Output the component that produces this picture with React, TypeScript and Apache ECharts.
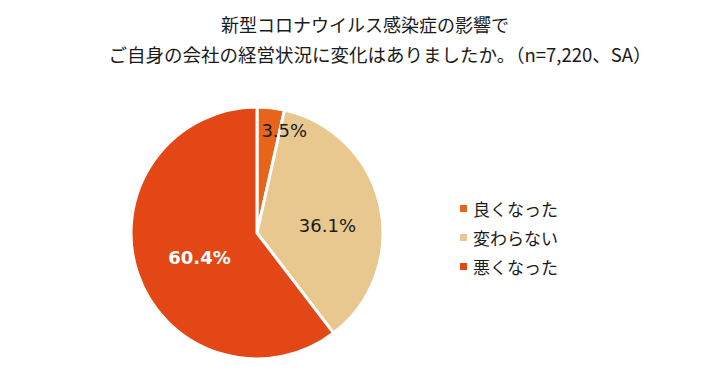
import React, { useEffect, useRef } from "react";
import * as echarts from "echarts";

const titleLine1 = "新型コロナウイルス感染症の影響で";
const titleLine2 = "ご自身の会社の経営状況に変化はありましたか。（n=7,220、SA）";
const categories = ["良くなった", "変わらない", "悪くなった"];
const values = [3.5, 36.1, 60.4];
const colors = ["#E8641B", "#E8C88E", "#E34716"];
const labelColors = ["#1a1a1a", "#1a1a1a", "#ffffff"];
const labelWeights = ["normal", "normal", "bold"];

const FONT = "'Noto Sans CJK JP', 'Noto Sans', sans-serif";
const NUMFONT = "'DejaVu Sans', 'Noto Sans', sans-serif";

export default function App() {
  const ref = useRef<HTMLDivElement>(null);
  useEffect(() => {
    document.body.style.margin = "0";
    if (!ref.current) return;
    const chart = echarts.init(ref.current, null, { renderer: "svg" });
    chart.setOption({
      animation: false,
      backgroundColor: "#ffffff",
      title: [
        {
          text: titleLine1,
          left: 360,
          top: 10,
          textAlign: "center",
          textStyle: { fontFamily: FONT, fontSize: 18, fontWeight: "normal", color: "#1a1a1a" },
        },
        {
          text: titleLine2,
          left: 375,
          top: 40,
          textAlign: "center",
          textStyle: { fontFamily: FONT, fontSize: 18.5, fontWeight: "normal", color: "#1a1a1a" },
        },
      ],
      legend: {
        orient: "vertical",
        left: 453,
        top: 195,
        itemWidth: 9,
        itemHeight: 9,
        itemGap: 12,
        icon: "rect",
        data: categories,
        textStyle: { fontFamily: FONT, fontSize: 17, color: "#1a1a1a" },
      },
      series: [
        {
          type: "pie",
          center: [257, 233],
          radius: [0, 126],
          startAngle: 90,
          clockwise: true,
          itemStyle: { borderColor: "#ffffff", borderWidth: 3 },
          label: {
            position: "inside",
            fontFamily: NUMFONT,
            fontSize: 18,
            formatter: (p: any) => p.value.toFixed(1) + "%",
          },
          labelLine: { show: false },
          labelLayout: (p: any) =>
            p.dataIndex === 0
              ? { dx: 20, dy: -37 }
              : p.dataIndex === 1
              ? { dx: 6, dy: 7 }
              : { dx: 5, dy: 3 },
          data: categories.map((c, i) => ({
            name: c,
            value: values[i],
            itemStyle: { color: colors[i] },
            label: {
              color: labelColors[i],
              fontWeight: labelWeights[i],
            },
          })),
        },
      ],
    });
    return () => chart.dispose();
  }, []);
  return <div ref={ref} style={{ width: 707, height: 375 }} />;
}
